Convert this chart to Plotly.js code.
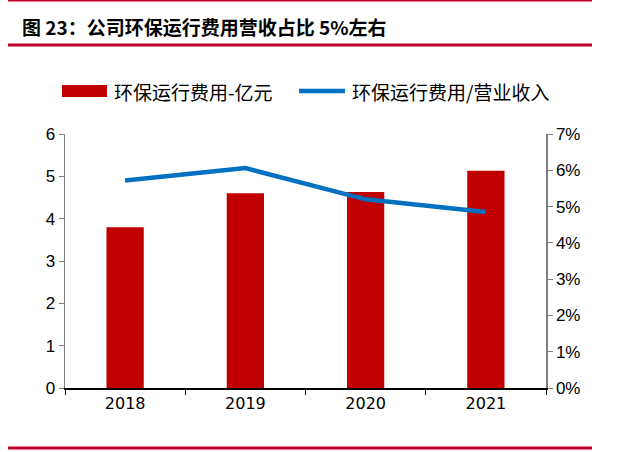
<!DOCTYPE html>
<html>
<head>
<meta charset="utf-8">
<script src="https://cdn.plot.ly/plotly-3.0.1.min.js"></script>
<style>html,body{margin:0;padding:0;background:#fff;}#chart{width:623px;height:452px;}</style>
</head>
<body>
<div id="chart"></div>
<script>
const years = ['2018', '2019', '2020', '2021'];
const costValues = [3.80, 4.60, 4.63, 5.13];
const ratioValues = [5.72, 6.06, 5.20, 4.85];
const leftTicks = [0, 1, 2, 3, 4, 5, 6];
const rightTicks = [0, 1, 2, 3, 4, 5, 6, 7];
const rightTickText = ['0%', '1%', '2%', '3%', '4%', '5%', '6%', '7%'];
const barName = '环保运行费用-亿元';
const lineName = '环保运行费用/营业收入';
const titleText = '图 23：公司环保运行费用营收占比 5%左右';

const red = '#C00000';
const blue = '#0070C0';
const ruleRed = '#C0002A';
const cjk = '"Noto Sans CJK SC", "Noto Sans", sans-serif';

const data = [
  {type: 'bar', x: years, y: costValues, name: barName, marker: {color: red}, width: 0.31, yaxis: 'y'},
  {type: 'scatter', mode: 'lines', x: years, y: ratioValues, name: lineName, line: {color: blue, width: 4.5}, yaxis: 'y2'}
];

// pixel -> paper helpers for decorations (plot area: x 65..546, y 134..388)
const px = v => (v - 65) / 481;
const py = v => (388 - v) / 254;

const layout = {
  width: 623, height: 452,
  margin: {l: 65, r: 77, t: 134, b: 64, pad: 0},
  paper_bgcolor: '#fff', plot_bgcolor: '#fff',
  showlegend: false,
  xaxis: {type: 'category', showline: true, linecolor: '#000', linewidth: 1.5, ticks: 'outside', ticklen: 5,
          tickson: 'boundaries', tickcolor: '#000', showgrid: false, zeroline: false,
          tickfont: {family: '"DejaVu Sans", sans-serif', size: 16, color: '#000'}},
  yaxis: {range: [0, 6], tickmode: 'array', tickvals: leftTicks, showline: true, linecolor: '#7f7f7f', linewidth: 1.5,
          ticks: 'outside', ticklen: 5, tickcolor: '#7f7f7f', showgrid: false, zeroline: false,
          tickfont: {family: '"Liberation Sans", Arial, sans-serif', size: 17, color: '#000'}},
  yaxis2: {range: [0, 7], tickmode: 'array', tickvals: rightTicks, ticktext: rightTickText, overlaying: 'y', side: 'right',
           showline: true, linecolor: '#7f7f7f', linewidth: 1.5, ticks: 'outside', ticklen: 5, tickcolor: '#7f7f7f',
           showgrid: false, zeroline: false,
           tickfont: {family: '"Liberation Sans", Arial, sans-serif', size: 17, color: '#000'}},
  annotations: [
    {text: titleText, xref: 'paper', yref: 'paper', x: px(20), y: py(26), xanchor: 'left', yanchor: 'middle',
     showarrow: false, font: {family: cjk, size: 19, color: '#000', weight: 'bold'}},
    {text: barName, xref: 'paper', yref: 'paper', x: px(112), y: py(91), xanchor: 'left', yanchor: 'middle',
     showarrow: false, font: {family: cjk, size: 19, color: '#000'}},
    {text: lineName, xref: 'paper', yref: 'paper', x: px(350), y: py(91), xanchor: 'left', yanchor: 'middle',
     showarrow: false, font: {family: cjk, size: 19, color: '#000'}}
  ],
  shapes: [
    {type: 'line', xref: 'paper', yref: 'paper', x0: px(8), x1: px(592), y0: py(45), y1: py(45), line: {color: ruleRed, width: 3}},
    {type: 'line', xref: 'paper', yref: 'paper', x0: px(8), x1: px(592), y0: py(0.5), y1: py(0.5), line: {color: ruleRed, width: 2}},
    {type: 'line', xref: 'paper', yref: 'paper', x0: px(8), x1: px(592), y0: py(448), y1: py(448), line: {color: ruleRed, width: 3}},
    {type: 'rect', xref: 'paper', yref: 'paper', x0: px(62), x1: px(107), y0: py(97), y1: py(85), fillcolor: red, line: {width: 0}},
    {type: 'line', xref: 'paper', yref: 'paper', x0: px(299), x1: px(345), y0: py(91), y1: py(91), line: {color: blue, width: 4.5}}
  ]
};

Plotly.newPlot('chart', data, layout, {staticPlot: true, displayModeBar: false});
</script>
</body>
</html>
